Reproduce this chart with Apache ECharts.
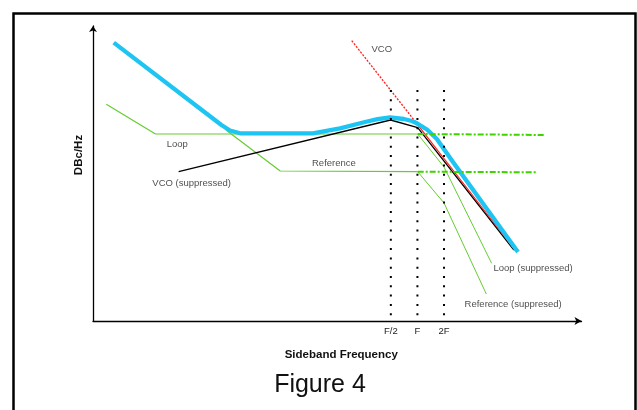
<!DOCTYPE html>
<html>
<head>
<meta charset="utf-8">
<script src="https://cdn.jsdelivr.net/npm/echarts@6/dist/echarts.min.js"></script>
<style>
html,body{margin:0;padding:0;background:#fff;}
#c{width:637px;height:410px;}
</style>
</head>
<body>
<div id="c"></div>
<script>
// x: octaves relative to F (log2(f/F)), y: relative dBc/Hz units
var tickValues = [-1, 0, 1];
var tickLabels = ['F/2', 'F', '2F'];

var total = [[-11.42,139.2],[-7.37,98],[-7.05,95.25],[-6.67,93.85],[-3.93,93.85],[-2.91,96.35],[-1.97,99.5],[-1.5,100.9],[-1.03,101.75],[-0.51,101],[-0.21,100],[-0.02,98.85],[0.36,95.75],[0.73,91],[1.33,79.65],[3.78,34.5]];
var vcoSuppressed = [[-8.98,74.65],[-1.01,100.5],[0.01,96.65],[3.63,35.5]];
var vcoFree = [[-2.47,140.15],[-0.03,98.85]];
var vcoFreeTail = [[-0.03,98.85],[3.70,35]];
var loop = [[-11.7,108.35],[-9.85,93.5],[0.01,93.5]];
var loopExt = [[0.01,93.5],[2.1,93.3],[4.77,93]];
var loopSuppressed = [[0.01,93.5],[1.0,77],[2.79,28.85]];
var reference = [[-7.2,95.5],[-5.16,75],[0.01,74.65]];
var referenceExt = [[0.01,74.65],[4.47,74.35]];
var referenceSuppressed = [[0.01,74.65],[1.0,59],[2.59,13.5]];
var markerTop = 115.5;
var annotations = [
  ['VCO', -1.34, 136],
  ['Loop', -9.03, 88.5],
  ['Reference', -3.14, 78.75],
  ['VCO (suppressed)', -8.49, 69],
  ['Loop (suppressed)', 4.35, 26.35],
  ['Reference (suppresed)', 3.6, 8.5]
];

var FONT = '"Liberation Sans", Arial, sans-serif';
var chart = echarts.init(document.getElementById('c'), null, {renderer: 'canvas'});

function lineSeries(data, color, width, type, z) {
  return {
    type: 'line', data: data, symbol: 'none', silent: true, z: z,
    lineStyle: {color: color, width: width, type: type || 'solid', cap: 'butt', join: 'round'},
    animation: false
  };
}

var series = [
  lineSeries(loop, '#66cc33', 1.2, 'solid', 2),
  lineSeries(reference, '#66cc33', 1.2, 'solid', 2),
  lineSeries(loopSuppressed, '#66cc33', 1, 'solid', 2),
  lineSeries(referenceSuppressed, '#66cc33', 1, 'solid', 2),
  lineSeries(vcoSuppressed, '#000000', 1.3, 'solid', 3),
  lineSeries(vcoFreeTail, '#ff2020', 1.2, 'solid', 4),
  lineSeries(vcoFree, '#ff2020', 1.3, [2, 1.5], 4),
  lineSeries(total, '#1ec5f2', 4.3, 'solid', 5),
  lineSeries(loopExt, '#3ed400', 2, [6, 2, 2, 2], 6),
  lineSeries(referenceExt, '#3ed400', 2, [6, 2, 2, 2], 6)
];
tickValues.forEach(function (v) {
  series.push(lineSeries([[v, markerTop], [v, 0]], '#000000', 2, [2, 7.3], 7));
});
series.push({
  type: 'scatter', symbolSize: 0, silent: true, z: 8, animation: false,
  data: annotations.map(function (a) { return {name: a[0], value: [a[1], a[2]]}; }),
  label: {show: true, position: 'inside', formatter: '{b}', color: '#222', fontSize: 9.5, fontFamily: FONT}
});

chart.setOption({
  animation: false,
  backgroundColor: '#ffffff',
  grid: {left: 93, right: 55.5, top: 26, bottom: 89, containLabel: false},
  xAxis: {
    type: 'value', min: -12.2, max: 6.17,
    name: 'Sideband Frequency', nameLocation: 'middle', nameGap: 28,
    nameTextStyle: {fontFamily: FONT, fontSize: 11.5, fontWeight: 'bold', color: '#111', padding: [0, 0, 0, 8]},
    axisLine: {show: true, onZero: false, symbol: ['none', 'arrow'], symbolSize: [6, 7], lineStyle: {color: '#000', width: 1.3}},
    axisTick: {show: false},
    splitLine: {show: false},
    axisLabel: {
      customValues: tickValues,
      hideOverlap: false,
      margin: 5, fontSize: 9.5, fontFamily: FONT, color: '#222',
      formatter: function (v) { var i = tickValues.indexOf(Math.round(v)); return i >= 0 ? tickLabels[i] : ''; }
    }
  },
  yAxis: {
    type: 'value', min: 0, max: 147.5,
    axisLine: {show: true, onZero: false, symbol: ['none', 'arrow'], symbolSize: [6, 6], lineStyle: {color: '#000', width: 1.3}},
    axisTick: {show: false},
    splitLine: {show: false},
    axisLabel: {show: false}
  },
  graphic: [
    {type: 'rect', shape: {x: 13.5, y: 13.5, width: 622, height: 500}, style: {fill: 'none', stroke: '#000', lineWidth: 2.5}, silent: true},
    {type: 'text', x: 79, y: 155, rotation: Math.PI / 2, style: {text: 'DBc/Hz', fontFamily: FONT, fontSize: 11.5, fontWeight: 'bold', fill: '#111', align: 'center', verticalAlign: 'middle'}},
    {type: 'text', x: 320, y: 385, style: {text: 'Figure 4', fontFamily: FONT, fontSize: 25, fill: '#111', align: 'center', verticalAlign: 'middle'}}
  ],
  series: series
});
</script>
</body>
</html>
